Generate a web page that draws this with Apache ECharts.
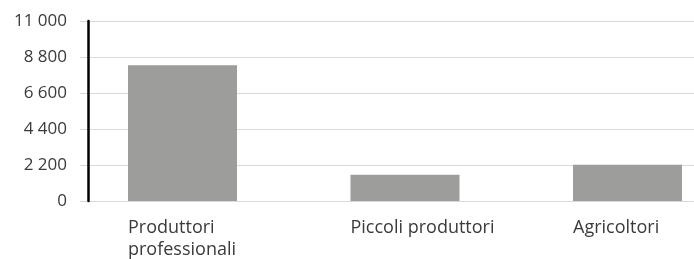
<!DOCTYPE html>
<html>
<head>
<meta charset="utf-8">
<script src="https://cdn.jsdelivr.net/npm/echarts@6/dist/echarts.min.js"></script>
<style>
html,body{margin:0;padding:0;background:#fff;}
#chart{width:694px;height:259px;}
</style>
</head>
<body>
<div id="chart"></div>
<script>
var categories = ['Produttori\nprofessionali', 'Piccoli produttori', 'Agricoltori'];
var values = [8290, 1600, 2220];
var yTicks = [0, 2200, 4400, 6600, 8800, 11000];

var chart = echarts.init(document.getElementById('chart'), null, {renderer: 'canvas'});
var FONT = '"Open Sans", sans-serif';
function fmt(v) {
  return String(v).replace(/\B(?=(\d{3})+(?!\d))/g, ' ');
}
chart.setOption({
  animation: false,
  backgroundColor: '#ffffff',
  grid: [
    {left: 80, right: 0, top: 21, bottom: 58, outerBoundsMode: 'none', containLabel: false},
    {left: 71.25, width: 667.5, top: 21, bottom: 58, outerBoundsMode: 'none', containLabel: false}
  ],
  xAxis: [
    {gridIndex: 0, type: 'value', show: false},
    {
      gridIndex: 1, type: 'category', data: categories,
      axisLine: {show: false}, axisTick: {show: false},
      axisLabel: {
        margin: 16,
        width: 109,
        formatter: function (v) { return '{a|' + v + '}'; },
        rich: {a: {align: 'left', fontFamily: FONT, fontSize: 18, lineHeight: 22, color: '#3a3a3a'}}
      }
    }
  ],
  yAxis: [
    {
      gridIndex: 0, type: 'value', min: yTicks[0], max: yTicks[yTicks.length - 1], interval: 2200,
      offset: -8,
      axisLine: {show: true, lineStyle: {color: '#000000', width: 2.5}},
      axisTick: {show: false},
      splitLine: {show: true, lineStyle: {color: '#d9d9d9', width: 1}},
      axisLabel: {margin: 21, fontFamily: FONT, fontSize: 17, color: '#3a3a3a', formatter: fmt}
    },
    {gridIndex: 1, type: 'value', min: yTicks[0], max: yTicks[yTicks.length - 1], show: false, splitLine: {show: false}}
  ],
  series: [{
    type: 'bar', xAxisIndex: 1, yAxisIndex: 1,
    data: values, barWidth: 109,
    itemStyle: {color: '#9d9d9c'}
  }]
});
</script>
</body>
</html>
